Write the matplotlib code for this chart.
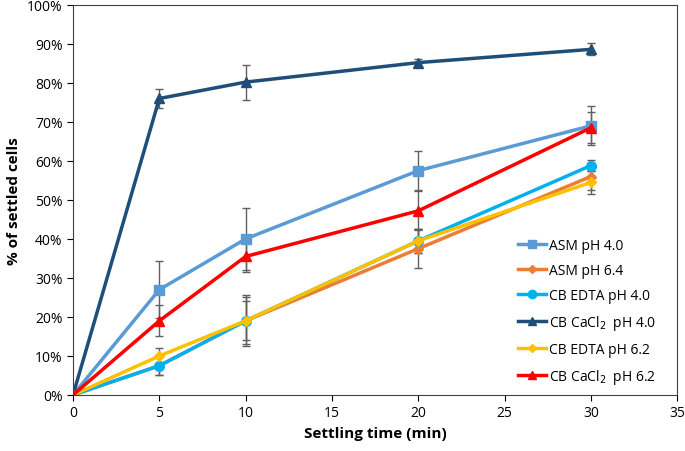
import matplotlib.pyplot as plt
from matplotlib.lines import Line2D

plt.rcParams['font.family'] = ['Open Sans', 'DejaVu Sans']

tiempo = [0, 5, 10, 20, 30]

asm_40 = [0, 27, 40, 57.5, 69]
asm_40_err = [0.5, 7.3, 8, 5, 5]
asm_64 = [0, 7.5, 19, 37.5, 56]
asm_64_err = [0.5, 2.5, 6, 5, 3.5]
edta_40 = [0, 7.5, 19, 39.5, 58.8]
edta_40_err = [0.5, 2.5, 6.5, 3, 1.5]
cacl_40 = [0, 76, 80.2, 85.2, 88.6]
cacl_40_err = [0.5, 2.5, 4.5, 1, 1.5]
edta_62 = [0, 10, 19, 39.5, 54.5]
edta_62_err = [0.5, 2, 5, 3, 3]
cacl_62 = [0, 19, 35.5, 47.2, 68.5]
cacl_62_err = [0.5, 4, 4, 5, 4]

serije = [
    ("ASM pH 4.0", asm_40, asm_40_err, "#5B9BD5", "s", 7),
    ("ASM pH 6.4", asm_64, asm_64_err, "#ED7D31", "D", 5),
    ("CB EDTA pH 4.0", edta_40, edta_40_err, "#00B0F0", "o", 7),
    ("CB CaCl$_2$  pH 4.0", cacl_40, cacl_40_err, "#1F4E79", "^", 7),
    ("CB EDTA pH 6.2", edta_62, edta_62_err, "#FFC000", "D", 5),
    ("CB CaCl$_2$  pH 6.2", cacl_62, cacl_62_err, "#FF0000", "^", 7),
]

fig = plt.figure(figsize=(6.85, 4.52), dpi=100)
ax = fig.add_axes([0.1066, 0.124, 0.882, 0.863])

ruke = []
for ime, y, err, boja, marker, ms in serije:
    ax.errorbar(tiempo, y, yerr=err, color=boja, marker=marker, markersize=ms,
                linewidth=2.5, ecolor="#606060", elinewidth=1, capsize=3)
    ruke.append(Line2D([], [], color=boja, marker=marker, markersize=ms - 1,
                       linewidth=2.5, label=ime))

ax.set_xlim(0, 35)
ax.set_ylim(0, 100)
ax.set_xticks(range(0, 36, 5))
ax.set_yticks(range(0, 101, 10))
ax.set_yticklabels([f"{v}%" for v in range(0, 101, 10)])
ax.tick_params(labelsize=10, direction="out", length=4)
ax.set_xlabel("Settling time (min)", fontsize=11, fontweight="bold")
ax.set_ylabel("% of settled cells", fontsize=11, fontweight="bold")
for s in ax.spines.values():
    s.set_color("#404040")

ax.legend(handles=ruke, loc="lower right", frameon=False, fontsize=10,
          handlelength=2.0, handletextpad=0.2, labelspacing=0.72,
          bbox_to_anchor=(0.985, -0.01))

fig.savefig("out.png", dpi=100)
